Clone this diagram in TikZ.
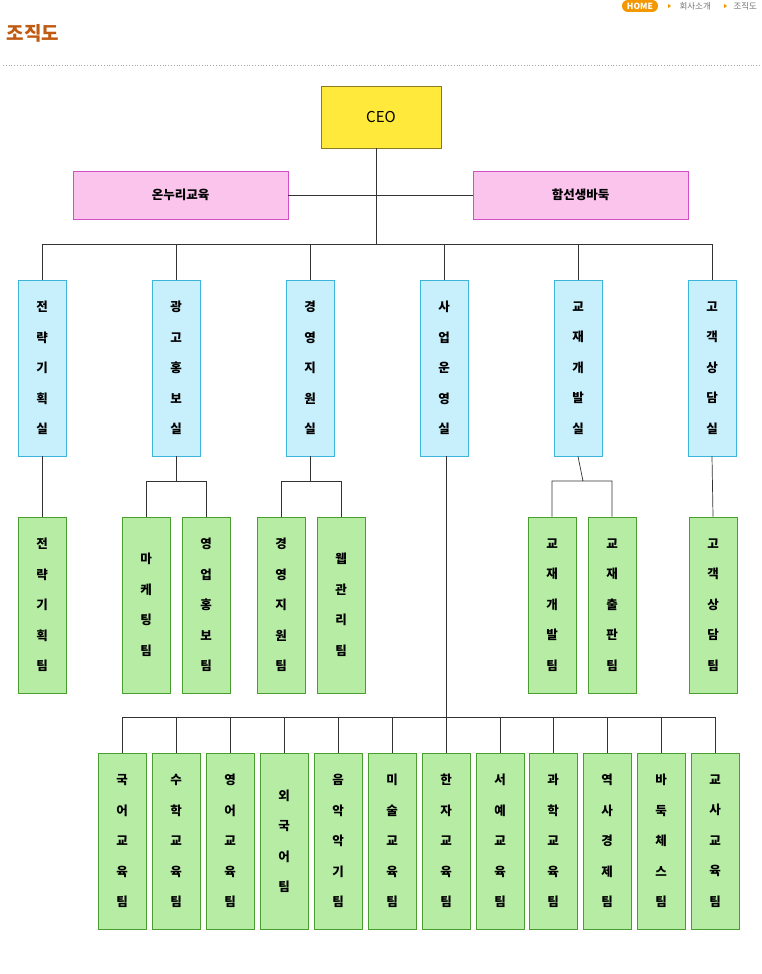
\documentclass[tikz,border=0pt]{standalone}
\usepackage{fontspec}
\setmainfont{Noto Sans CJK KR}
\newfontfamily\kb{Noto Sans CJK KR}[BoldFont={* Bold}]
\begin{document}
\begin{tikzpicture}[x=1pt,y=-1pt,
  box/.style={draw, line width=0.8pt, inner sep=0pt, align=center, font=\fontsize{12.5}{30.5}\selectfont\bfseries},
  ceo/.style={box, fill=ceoY, draw=ceoB, minimum width=120pt, minimum height=62pt, font=\fontsize{15}{18}\selectfont},
  aff/.style={box, fill=pinkF, draw=pinkB, minimum width=215pt, minimum height=48pt, font=\fontsize{12.5}{15}\selectfont\bfseries},
  dept/.style={box, fill=blueF, draw=blueB, minimum width=48pt, minimum height=176pt},
  team/.style={box, fill=greenF, draw=greenB, minimum width=48pt, minimum height=176pt},
  ln/.style={draw=black!80, line width=0.7pt}]
\definecolor{ceoY}{HTML}{FFE93B}\definecolor{ceoB}{HTML}{8A7A20}
\definecolor{pinkF}{HTML}{FBC4EC}\definecolor{pinkB}{HTML}{D050C8}
\definecolor{blueF}{HTML}{C8F0FC}\definecolor{blueB}{HTML}{3CB4DC}
\definecolor{greenF}{HTML}{B6ECA4}\definecolor{greenB}{HTML}{4A9E30}
\definecolor{brn}{HTML}{C05A10}\definecolor{org}{HTML}{F39800}
\useasboundingbox (0,0) rectangle (762,974);
% header
\node[anchor=west, text=brn, font=\fontsize{19}{22}\selectfont\bfseries] (title) at (3,33) {조직도};
\node[fill=org, rounded corners=6pt, text=white, font=\fontsize{8.5}{9}\selectfont\bfseries, inner xsep=5pt, inner ysep=1pt, minimum height=12pt] (home) at (640,6) {HOME};
\node[anchor=west, text=black!55, font=\fontsize{8.5}{9}\selectfont] (bc1) at (676,6) {회사소개};
\node[anchor=west, text=black!55, font=\fontsize{8.5}{9}\selectfont] (bc2) at (730,6) {조직도};
\fill[org] (668,4) -- (671,6) -- (668,8) -- cycle;
\fill[org] (724,4) -- (727,6) -- (724,8) -- cycle;
\draw[black!35, dotted, line width=0.8pt] (3,65) -- (760,65);
% top
\node[ceo] (ceo) at (381,117) {CEO};
\node[aff] (a1) at (180.5,195) {온누리교육};
\node[aff] (a2) at (580.5,195) {함선생바둑};
\coordinate (j1) at (376,195);
\coordinate (j2) at (376,244);
\path[ln] (376,148) -- (j2);
\path[ln] (a1.east) -- (a2.west);
% depts
\foreach \n/\x/\t in {d1/42/전\\략\\기\\획\\실, d2/176/광\\고\\홍\\보\\실, d3/310/경\\영\\지\\원\\실, d4/444/사\\업\\운\\영\\실, d5/578/교\\재\\개\\발\\실, d6/712/고\\객\\상\\담\\실}{
  \node[dept] (\n) at (\x,368) {\t};
  \path[ln] (\n.north) -- (\x,244);
}
\path[ln] (d1.north |- j2) -- (d6.north |- j2);
% teams
\foreach \n/\x/\t in {t1/42/전\\략\\기\\획\\팀, t2/146/마\\케\\팅\\팀, t3/206/영\\업\\홍\\보\\팀, t4/281/경\\영\\지\\원\\팀, t5/341/웹\\관\\리\\팀, t6/552/교\\재\\개\\발\\팀, t7/612/교\\재\\출\\판\\팀, t8/713/고\\객\\상\\담\\팀}{
  \node[team] (\n) at (\x,605) {\t};
}
\path[ln] (d1.south) -- (t1.north);
\path[ln] (d6.south) -- (t8.north);
\path[ln] (d2.south) -- (176,481) (t2.north) |- (t3.north |- 0,481) -- (t3.north);
\path[ln] (d3.south) -- (310,481) (t4.north) |- (t5.north |- 0,481) -- (t5.north);
\path[ln] (d5.south) -- (583,481) (t6.north) |- (t7.north |- 0,481) -- (t7.north);
\path[ln] (d2.south) -- (176,481);
% bottom
\foreach \n/\x/\t in {b1/122/국\\어\\교\\육\\팀, b2/176/수\\학\\교\\육\\팀, b3/230/영\\어\\교\\육\\팀, b4/284/외\\국\\어\\팀, b5/338/음\\악\\악\\기\\팀, b6/392/미\\술\\교\\육\\팀, b7/446/한\\자\\교\\육\\팀, b8/500/서\\예\\교\\육\\팀, b9/553/과\\학\\교\\육\\팀, b10/607/역\\사\\경\\제\\팀, b11/661/바\\둑\\체\\스\\팀, b12/715/교\\사\\교\\육\\팀}{
  \node[team] (\n) at (\x,841) {\t};
  \path[ln] (\n.north) -- (\x,717);
}
\path[ln] (b1.north |- 0,717) -- (b12.north |- 0,717);
\path[ln] (d4.south -| 446,0) -- (446,717);
\end{tikzpicture}
\end{document}
